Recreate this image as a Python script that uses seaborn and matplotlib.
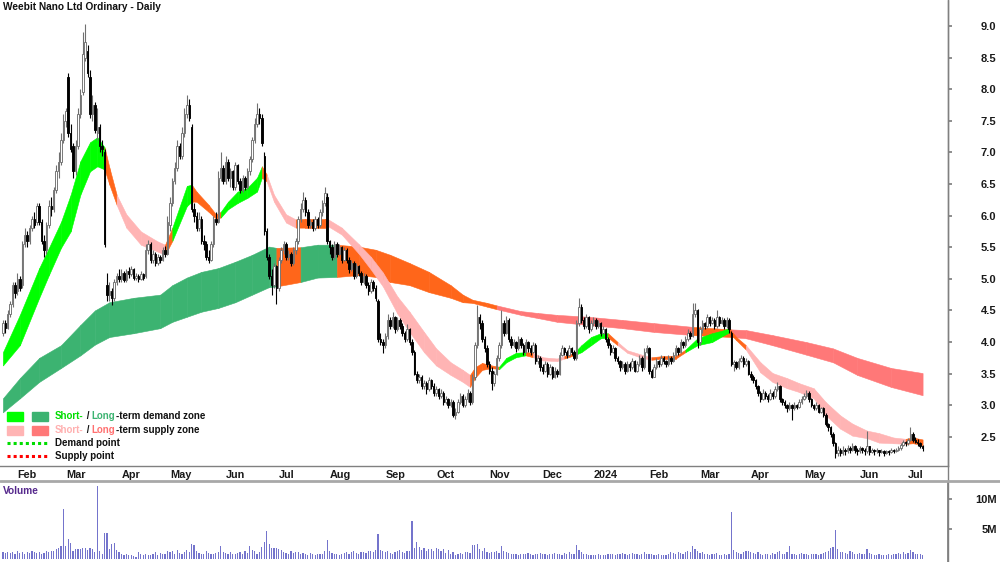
import matplotlib
matplotlib.use('Agg')
import matplotlib.pyplot as plt
from matplotlib.lines import Line2D
from matplotlib.patches import Rectangle
import numpy as np
import pandas as pd
import seaborn as sns

TITLE = 'Weebit Nano Ltd Ordinary - Daily'
FIRST_DAY = '2023-01-24'

# daily candles, one line per month (Jan 2023 .. Jul 2024)
opens = [
    4.15, 4.30, 4.22, 4.45, 4.60, 4.90,
    4.80, 5.00, 4.90, 5.55, 5.70, 5.60, 5.80, 5.95, 5.90, 6.15, 5.90, 5.60, 5.45, 5.85, 6.15, 6.10, 6.40, 6.70, 6.85, 7.20,
    7.50, 8.20, 7.30, 7.10, 6.70, 7.10, 7.60, 7.95, 8.50, 8.60, 8.20, 7.60, 7.75, 7.30, 7.40, 7.10, 7.00, 4.90, 4.75, 4.80, 4.70, 4.95, 5.05,
    5.00, 5.10, 4.98, 5.12, 5.08, 5.15, 5.02, 5.05, 5.00, 5.08, 5.05, 5.45, 5.55, 5.30, 5.40, 5.25, 5.35, 5.30, 5.45, 5.40,
    5.85, 6.20, 6.55, 6.75, 7.10, 6.95, 7.30, 7.60, 7.75, 7.40, 6.10, 6.00, 5.80, 5.95, 5.60, 5.55, 5.35, 5.30, 5.55, 5.95, 5.90, 6.60, 6.75,
    6.55, 6.85, 6.60, 6.70, 6.45, 6.80, 6.55, 6.40, 6.60, 6.45, 6.70, 6.90, 7.20, 7.45, 7.60, 7.55, 6.95, 5.75, 5.35, 5.05, 4.90, 5.20,
    4.85, 5.30, 5.45, 5.55, 5.35, 5.40, 5.25, 5.45, 5.60, 5.95, 6.10, 6.25, 6.05, 5.85, 5.90, 5.80, 5.95, 5.85, 6.05, 6.20, 6.30,
    5.60, 5.50, 5.35, 5.55, 5.40, 5.50, 5.30, 5.45, 5.30, 5.15, 5.25, 5.05, 5.20, 5.10, 4.95, 5.05, 4.90, 4.80, 4.95, 4.85, 4.65, 4.05, 4.00,
    3.95, 4.10, 4.35, 4.25, 4.40, 4.20, 4.35, 4.25, 4.15, 4.05, 4.20, 4.00, 3.85, 3.50, 3.40, 3.45, 3.30, 3.35, 3.25, 3.40, 3.30,
    3.20, 3.25, 3.15, 3.20, 3.05, 3.10, 3.00, 3.05, 2.85, 2.90, 3.05, 3.15, 3.00, 3.10, 3.20, 3.05, 3.45, 3.95, 4.40, 4.30, 4.05, 3.90,
    3.65, 3.55, 3.35, 3.50, 3.75, 3.95, 4.30, 4.15, 4.35, 4.05, 3.95, 4.00, 3.90, 4.05, 3.95, 3.85, 4.00, 3.90, 3.85, 3.95, 3.70, 3.75,
    3.60, 3.55, 3.65, 3.50, 3.60, 3.45, 3.55, 3.50, 3.80, 3.90, 3.85, 3.80, 3.90, 3.85, 3.75, 4.30, 4.55, 4.35, 4.25, 4.40, 4.20,
    4.30, 4.35, 4.25, 4.30, 4.15, 4.20, 4.05, 3.95, 3.85, 3.90, 3.75, 3.70, 3.60, 3.65, 3.55, 3.65, 3.60, 3.70, 3.55, 3.65, 3.75, 3.60, 3.85,
    3.90, 3.55, 3.45, 3.60, 3.70, 3.65, 3.75, 3.70, 3.65, 3.75, 3.70, 3.80, 3.90, 3.85, 4.00, 3.95, 4.05, 4.15, 4.10, 4.45, 4.50,
    4.00, 4.20, 4.30, 4.25, 4.40, 4.30, 4.35, 4.25, 4.40, 4.30, 4.35, 4.25, 4.35, 4.15, 3.65, 3.68, 3.60, 3.70, 3.75, 3.65, 3.70,
    3.50, 3.45, 3.40, 3.30, 3.20, 3.10, 3.20, 3.15, 3.10, 3.20, 3.15, 3.25, 3.30, 3.10, 3.05, 3.00, 2.95, 3.00, 2.95, 3.00, 2.98, 3.05,
    3.10, 3.15, 3.20, 3.10, 3.00, 2.95, 3.00, 2.90, 2.95, 2.85, 2.70, 2.65, 2.55, 2.40, 2.25, 2.30, 2.25, 2.30, 2.28, 2.32, 2.30, 2.35, 2.30,
    2.28, 2.32, 2.30, 2.28, 2.35, 2.26, 2.30, 2.27, 2.29, 2.26, 2.28, 2.25, 2.27, 2.26, 2.29, 2.28, 2.30, 2.33, 2.38, 2.42,
    2.40, 2.45, 2.55, 2.45, 2.42, 2.40, 2.36,
]
highs = [
    4.35, 4.35, 4.50, 4.65, 4.95, 4.95,
    5.10, 5.05, 5.60, 5.80, 5.75, 5.85, 6.00, 6.05, 6.20, 6.20, 5.95, 5.70, 5.90, 6.25, 6.30, 6.45, 6.80, 7.00, 7.30, 7.60,
    7.70, 8.25, 7.45, 7.15, 7.20, 7.70, 8.00, 8.90, 9.03, 8.70, 8.30, 7.90, 7.80, 7.70, 7.45, 7.20, 7.05, 5.10, 4.95, 4.85, 5.00, 5.10, 5.15,
    5.15, 5.12, 5.15, 5.18, 5.20, 5.17, 5.10, 5.08, 5.12, 5.10, 5.55, 5.62, 5.58, 5.45, 5.42, 5.40, 5.38, 5.50, 5.52, 6.00,
    6.30, 6.60, 6.85, 7.20, 7.15, 7.40, 7.70, 7.90, 7.85, 7.45, 6.20, 6.05, 6.05, 6.00, 5.70, 5.60, 5.45, 5.60, 6.00, 6.05, 6.70, 7.00, 6.80,
    6.95, 6.90, 6.75, 6.72, 6.85, 6.82, 6.60, 6.65, 6.62, 6.75, 6.95, 7.25, 7.55, 7.78, 7.70, 7.60, 7.00, 5.80, 5.40, 5.15, 5.25, 5.22,
    5.35, 5.50, 5.60, 5.58, 5.45, 5.42, 5.50, 5.65, 6.00, 6.20, 6.37, 6.30, 6.10, 5.95, 5.95, 6.00, 5.98, 6.10, 6.25, 6.46, 6.35,
    5.62, 5.55, 5.60, 5.58, 5.55, 5.52, 5.50, 5.48, 5.35, 5.30, 5.28, 5.25, 5.22, 5.12, 5.10, 5.08, 4.95, 5.00, 4.98, 4.90, 4.68, 4.15, 4.05,
    4.15, 4.45, 4.40, 4.48, 4.42, 4.40, 4.38, 4.30, 4.18, 4.28, 4.22, 4.05, 3.88, 3.55, 3.50, 3.48, 3.40, 3.38, 3.45, 3.42, 3.35,
    3.30, 3.28, 3.25, 3.22, 3.15, 3.12, 3.10, 3.08, 2.95, 3.10, 3.20, 3.18, 3.15, 3.25, 3.22, 3.50, 4.00, 4.59, 4.45, 4.35, 4.10, 3.95,
    3.70, 3.60, 3.55, 3.80, 4.00, 4.50, 4.35, 4.42, 4.38, 4.10, 4.05, 4.02, 4.10, 4.08, 3.98, 4.05, 4.02, 3.95, 4.00, 3.98, 3.80, 3.78,
    3.65, 3.70, 3.68, 3.65, 3.62, 3.60, 3.58, 3.85, 3.95, 3.92, 3.88, 3.95, 3.92, 3.88, 4.35, 4.70, 4.60, 4.40, 4.45, 4.42, 4.35,
    4.40, 4.38, 4.35, 4.32, 4.25, 4.22, 4.08, 3.98, 3.95, 3.92, 3.78, 3.72, 3.70, 3.68, 3.70, 3.68, 3.75, 3.72, 3.70, 3.80, 3.78, 3.90, 3.95,
    3.92, 3.58, 3.65, 3.75, 3.72, 3.80, 3.78, 3.72, 3.80, 3.78, 3.85, 3.95, 3.92, 4.05, 4.02, 4.10, 4.20, 4.18, 4.62, 4.62, 4.52,
    4.25, 4.35, 4.32, 4.45, 4.42, 4.40, 4.38, 4.50, 4.42, 4.40, 4.38, 4.40, 4.38, 4.18, 3.72, 3.70, 3.75, 3.80, 3.78, 3.75, 3.72,
    3.55, 3.48, 3.42, 3.32, 3.22, 3.25, 3.22, 3.18, 3.25, 3.22, 3.30, 3.37, 3.32, 3.12, 3.08, 3.02, 3.05, 3.02, 3.05, 3.02, 3.10, 3.15,
    3.20, 3.24, 3.22, 3.12, 3.02, 3.05, 3.02, 2.98, 2.97, 2.88, 2.72, 2.68, 2.58, 2.42, 2.35, 2.32, 2.35, 2.32, 2.38, 2.35, 2.40, 2.37, 2.32,
    2.35, 2.34, 2.32, 2.60, 2.36, 2.33, 2.31, 2.32, 2.30, 2.31, 2.29, 2.30, 2.29, 2.32, 2.31, 2.33, 2.36, 2.40, 2.45, 2.44,
    2.48, 2.65, 2.58, 2.50, 2.46, 2.42, 2.38,
]
lows = [
    4.10, 4.15, 4.20, 4.40, 4.55, 4.70,
    4.75, 4.80, 4.85, 5.50, 5.50, 5.55, 5.75, 5.80, 5.85, 5.85, 5.55, 5.35, 5.40, 5.80, 6.00, 6.05, 6.35, 6.60, 6.80, 7.15,
    7.40, 7.25, 7.00, 6.60, 6.65, 7.05, 7.55, 7.90, 8.45, 8.20, 7.55, 7.50, 7.30, 7.20, 7.00, 6.95, 5.50, 4.65, 4.65, 4.58, 4.65, 4.90, 4.95,
    4.95, 4.95, 4.95, 5.02, 5.05, 4.98, 4.98, 4.95, 4.98, 4.98, 5.02, 5.40, 5.25, 5.25, 5.20, 5.22, 5.25, 5.28, 5.35, 5.38,
    5.75, 6.15, 6.50, 6.70, 6.90, 6.90, 7.25, 7.55, 7.50, 6.05, 5.90, 5.75, 5.75, 5.55, 5.45, 5.30, 5.25, 5.28, 5.50, 5.85, 5.88, 6.55, 6.50,
    6.50, 6.55, 6.45, 6.40, 6.40, 6.50, 6.35, 6.38, 6.40, 6.42, 6.65, 6.85, 7.15, 7.40, 7.45, 7.10, 5.70, 5.30, 5.00, 4.75, 4.85, 4.60,
    4.80, 5.25, 5.40, 5.30, 5.30, 5.20, 5.22, 5.40, 5.55, 5.90, 6.05, 6.00, 5.80, 5.80, 5.75, 5.78, 5.80, 5.82, 6.00, 6.15, 5.55,
    5.40, 5.30, 5.32, 5.35, 5.38, 5.25, 5.28, 5.25, 5.10, 5.12, 5.00, 5.02, 5.05, 4.90, 4.92, 4.85, 4.75, 4.78, 4.80, 4.65, 4.00, 3.95, 3.83,
    3.90, 4.05, 4.20, 4.22, 4.15, 4.18, 4.20, 4.10, 4.00, 4.02, 3.95, 3.80, 3.48, 3.35, 3.35, 3.25, 3.25, 3.18, 3.22, 3.25, 3.15,
    3.15, 3.10, 3.12, 3.00, 3.02, 2.95, 2.98, 2.82, 2.78, 2.88, 3.02, 2.98, 2.98, 3.05, 3.00, 3.02, 3.40, 3.90, 4.20, 4.00, 3.85, 3.60,
    3.50, 3.24, 3.30, 3.48, 3.70, 3.90, 4.10, 4.12, 4.00, 3.90, 3.92, 3.85, 3.88, 3.90, 3.80, 3.82, 3.85, 3.80, 3.82, 3.65, 3.65, 3.55,
    3.50, 3.52, 3.45, 3.48, 3.42, 3.43, 3.45, 3.48, 3.78, 3.80, 3.75, 3.78, 3.80, 3.72, 3.72, 4.25, 4.30, 4.20, 4.22, 4.15, 4.18,
    4.25, 4.20, 4.22, 4.10, 4.12, 4.00, 3.90, 3.80, 3.82, 3.70, 3.65, 3.55, 3.58, 3.50, 3.52, 3.55, 3.58, 3.52, 3.52, 3.62, 3.55, 3.58, 3.82,
    3.50, 3.43, 3.44, 3.58, 3.60, 3.62, 3.65, 3.60, 3.62, 3.65, 3.68, 3.78, 3.80, 3.82, 3.90, 3.92, 4.02, 4.05, 4.08, 4.40, 3.90,
    3.95, 4.15, 4.20, 4.22, 4.25, 4.28, 4.20, 4.22, 4.25, 4.28, 4.20, 4.22, 4.15, 3.62, 3.55, 3.58, 3.58, 3.68, 3.60, 3.62, 3.48,
    3.40, 3.35, 3.25, 3.15, 3.05, 3.08, 3.10, 3.05, 3.08, 3.10, 3.12, 3.22, 3.05, 3.00, 2.95, 2.90, 2.92, 2.76, 2.92, 2.94, 2.96, 3.02,
    3.08, 3.12, 3.05, 2.98, 2.92, 2.93, 2.88, 2.88, 2.82, 2.68, 2.60, 2.50, 2.35, 2.17, 2.20, 2.20, 2.22, 2.22, 2.25, 2.25, 2.28, 2.25, 2.22,
    2.25, 2.25, 2.22, 2.25, 2.22, 2.24, 2.22, 2.25, 2.20, 2.24, 2.20, 2.23, 2.22, 2.24, 2.24, 2.26, 2.28, 2.30, 2.35, 2.36,
    2.38, 2.43, 2.42, 2.40, 2.36, 2.33, 2.28,
]
closes = [
    4.30, 4.22, 4.45, 4.60, 4.90, 4.78,
    5.00, 4.85, 5.55, 5.70, 5.60, 5.80, 5.95, 5.85, 6.15, 5.90, 5.60, 5.45, 5.85, 6.15, 6.10, 6.40, 6.70, 6.85, 7.20, 7.50,
    7.65, 7.30, 7.05, 6.70, 7.10, 7.60, 7.90, 8.55, 8.75, 8.25, 7.60, 7.75, 7.35, 7.40, 7.10, 7.05, 5.55, 4.75, 4.80, 4.70, 4.95, 5.05, 5.00,
    5.10, 4.98, 5.12, 5.08, 5.15, 5.02, 5.05, 5.00, 5.08, 5.02, 5.45, 5.55, 5.30, 5.40, 5.25, 5.35, 5.30, 5.45, 5.40, 5.90,
    6.20, 6.55, 6.75, 7.10, 6.95, 7.30, 7.60, 7.75, 7.55, 6.10, 6.00, 5.80, 5.95, 5.60, 5.55, 5.35, 5.30, 5.55, 5.95, 5.90, 6.60, 6.75, 6.55,
    6.85, 6.60, 6.70, 6.45, 6.80, 6.55, 6.40, 6.60, 6.45, 6.70, 6.90, 7.20, 7.45, 7.60, 7.55, 7.15, 5.75, 5.35, 5.05, 4.90, 5.20, 4.85,
    5.30, 5.45, 5.55, 5.35, 5.40, 5.25, 5.45, 5.60, 5.95, 6.10, 6.25, 6.05, 5.85, 5.90, 5.80, 5.95, 5.85, 6.05, 6.20, 6.35, 5.60,
    5.50, 5.35, 5.55, 5.40, 5.50, 5.30, 5.45, 5.30, 5.15, 5.25, 5.05, 5.20, 5.10, 4.95, 5.05, 4.90, 4.80, 4.95, 4.85, 4.70, 4.05, 4.00, 3.95,
    4.10, 4.35, 4.25, 4.40, 4.20, 4.35, 4.25, 4.15, 4.05, 4.20, 4.00, 3.85, 3.50, 3.40, 3.45, 3.30, 3.35, 3.25, 3.40, 3.30, 3.20,
    3.25, 3.15, 3.20, 3.05, 3.10, 3.00, 3.05, 2.85, 2.90, 3.05, 3.15, 3.00, 3.10, 3.20, 3.05, 3.45, 3.95, 4.40, 4.30, 4.05, 3.90, 3.65,
    3.55, 3.35, 3.50, 3.75, 3.95, 4.30, 4.15, 4.35, 4.05, 3.95, 4.00, 3.90, 4.05, 3.95, 3.85, 4.00, 3.90, 3.85, 3.95, 3.70, 3.75, 3.60,
    3.55, 3.65, 3.50, 3.60, 3.45, 3.55, 3.50, 3.80, 3.90, 3.85, 3.80, 3.90, 3.85, 3.75, 4.30, 4.55, 4.35, 4.25, 4.40, 4.20, 4.30,
    4.35, 4.25, 4.30, 4.15, 4.20, 4.05, 3.95, 3.85, 3.90, 3.75, 3.70, 3.60, 3.65, 3.55, 3.65, 3.60, 3.70, 3.55, 3.65, 3.75, 3.60, 3.85, 3.90,
    3.55, 3.45, 3.60, 3.70, 3.65, 3.75, 3.70, 3.65, 3.75, 3.70, 3.80, 3.90, 3.85, 4.00, 3.95, 4.05, 4.15, 4.10, 4.45, 4.50, 4.00,
    4.20, 4.30, 4.25, 4.40, 4.30, 4.35, 4.25, 4.40, 4.30, 4.35, 4.25, 4.35, 4.20, 3.65, 3.68, 3.60, 3.70, 3.75, 3.65, 3.70, 3.50,
    3.45, 3.40, 3.30, 3.20, 3.10, 3.20, 3.15, 3.10, 3.20, 3.15, 3.25, 3.30, 3.10, 3.05, 3.00, 2.95, 3.00, 2.95, 3.00, 2.98, 3.05, 3.10,
    3.15, 3.20, 3.10, 3.00, 2.95, 3.00, 2.90, 2.95, 2.85, 2.70, 2.65, 2.55, 2.40, 2.25, 2.30, 2.25, 2.30, 2.28, 2.32, 2.30, 2.35, 2.30, 2.28,
    2.32, 2.30, 2.28, 2.35, 2.26, 2.30, 2.27, 2.29, 2.26, 2.28, 2.25, 2.27, 2.26, 2.29, 2.28, 2.30, 2.33, 2.38, 2.42, 2.40,
    2.45, 2.55, 2.45, 2.42, 2.40, 2.36, 2.32,
]
# volume in millions of shares
volume_m = [
    1.2, 1.0, 1.1, 1.0, 1.2, 0.9,
    1.3, 1.0, 1.1, 0.9, 1.2, 1.0, 1.3, 1.1, 1.0, 1.2, 0.9, 1.0, 1.4, 1.2, 1.3, 1.3, 1.6, 1.9, 2.2, 8.3,
    2.1, 3.3, 2.7, 1.4, 1.6, 1.7, 1.6, 1.8, 1.8, 1.5, 1.9, 1.7, 1.2, 12.2, 1.4, 0.9, 4.4, 4.4, 1.6, 2.5, 2.6, 1.5, 1.1,
    0.9, 0.7, 0.8, 0.6, 0.7, 0.5, 0.4, 1.1, 0.9, 0.7, 0.8, 0.6, 0.7, 0.9, 1.2, 0.7, 1.0, 0.9, 0.8, 1.4,
    1.1, 1.3, 0.8, 1.5, 1.0, 0.8, 1.1, 1.5, 1.2, 2.5, 2.4, 1.4, 1.0, 0.9, 0.8, 1.3, 1.0, 0.9, 0.8, 1.0, 1.1, 2.2, 1.2,
    1.0, 0.9, 1.1, 0.8, 0.9, 1.0, 1.2, 0.9, 1.3, 1.0, 2.2, 1.5, 1.3, 0.9, 1.1, 2.0, 2.8, 4.7, 2.5, 1.8, 1.9, 1.8,
    1.7, 1.5, 1.1, 1.0, 0.9, 1.3, 1.0, 1.2, 1.1, 0.9, 1.0, 0.8, 0.7, 1.0, 0.8, 0.7, 0.9, 0.8, 0.9, 1.4, 3.1,
    1.4, 1.0, 0.8, 0.9, 0.7, 0.8, 1.0, 1.1, 0.9, 1.2, 1.3, 1.0, 0.8, 1.1, 1.2, 1.0, 1.3, 1.4, 1.2, 1.5, 4.2, 1.5, 1.4,
    1.2, 1.4, 1.0, 0.9, 1.1, 1.3, 1.5, 1.2, 1.0, 1.3, 1.4, 6.4, 1.9, 2.9, 2.0, 1.5, 1.9, 1.4, 1.7, 1.6, 1.3,
    1.8, 1.6, 1.3, 1.7, 1.0, 1.5, 0.9, 1.1, 0.7, 0.8, 1.0, 0.9, 1.2, 1.1, 1.0, 2.3, 2.4, 2.5, 1.6, 1.4, 1.9, 1.2,
    1.0, 1.2, 1.1, 1.4, 1.0, 2.2, 1.3, 1.2, 1.0, 0.9, 0.8, 0.9, 0.7, 0.8, 0.9, 0.8, 1.0, 0.9, 0.7, 0.8, 0.9, 1.0,
    0.9, 0.8, 0.7, 0.9, 0.8, 1.0, 0.9, 0.8, 0.7, 1.0, 0.9, 1.1, 0.8, 0.9, 2.4, 1.5, 1.2, 0.9, 0.8, 0.7, 0.6,
    0.7, 0.6, 0.8, 0.7, 0.6, 0.7, 0.8, 0.9, 0.8, 0.7, 0.9, 0.8, 1.0, 0.9, 0.7, 0.8, 1.0, 0.9, 0.8, 0.7, 0.9, 1.1, 0.8,
    0.9, 0.8, 0.7, 0.6, 0.8, 0.7, 0.6, 0.7, 0.8, 1.1, 1.0, 0.9, 1.2, 1.0, 0.9, 1.1, 1.3, 1.2, 2.2, 1.6, 1.4,
    1.0, 1.1, 0.9, 0.8, 0.7, 0.9, 0.8, 1.0, 0.7, 0.6, 0.8, 0.7, 0.9, 7.8, 1.5, 1.2, 1.0, 0.9, 1.1, 1.3, 1.4,
    1.2, 1.0, 0.9, 1.1, 0.8, 0.7, 0.9, 0.8, 0.7, 1.0, 0.9, 1.2, 1.3, 0.9, 0.8, 1.1, 2.2, 0.9, 0.8, 0.7, 0.9, 1.0,
    0.8, 0.9, 0.7, 0.8, 0.9, 0.8, 0.7, 0.9, 1.0, 1.2, 1.3, 1.8, 2.0, 4.8, 1.6, 1.2, 1.1, 1.0, 0.9, 1.3, 1.1, 0.9, 0.8,
    1.0, 0.8, 0.9, 1.7, 1.0, 0.9, 0.7, 0.6, 0.8, 0.7, 0.6, 0.7, 0.8, 0.7, 0.9, 0.8, 1.0, 0.9, 1.1, 0.8,
    1.0, 1.5, 1.1, 0.9, 0.8, 0.9, 0.7,
]

# short-term zone ribbon, read at key trading days
short_day = [0, 7, 15, 19, 24, 28, 32, 36, 39, 42, 44, 47, 51, 57, 64, 67, 70, 76, 78, 80,
             85, 88, 90, 93, 97, 101, 105, 107, 109, 112, 117, 121, 125, 133, 134, 140, 147, 152, 157, 163,
             168, 174, 179, 185, 190, 193, 195, 198, 202, 205, 208, 212, 216, 219, 223, 229, 232, 236, 239, 243,
             247, 250, 254, 258, 264, 268, 273, 278, 282, 287, 293, 298, 300, 303, 307, 313, 318, 324, 329, 335,
             340, 346, 351, 357, 362, 368, 373, 376, 380]
short_top = [3.84, 4.43, 5.17, 5.49, 5.90, 6.33, 6.86, 7.16, 7.24, 7.08, 6.76, 6.33, 6.02, 5.75, 5.59, 5.54, 5.81, 6.47, 6.49, 6.38,
             6.17, 6.02, 6.06, 6.22, 6.38, 6.44, 6.60, 6.78, 6.65, 6.33, 6.02, 5.94, 5.95, 5.95, 5.95, 5.81, 5.55, 5.35, 5.10, 4.72,
             4.48, 4.16, 3.90, 3.68, 3.56, 3.48, 3.60, 3.67, 3.63, 3.61, 3.75, 3.83, 3.84, 3.83, 3.76, 3.74, 3.78, 3.83, 3.95, 4.08,
             4.14, 4.14, 4.00, 3.87, 3.80, 3.76, 3.78, 3.78, 3.88, 4.06, 4.14, 4.19, 4.22, 4.08, 3.95, 3.68, 3.51, 3.43, 3.35, 3.27,
             3.05, 2.84, 2.71, 2.60, 2.56, 2.49, 2.47, 2.49, 2.46]
short_bot = [3.63, 3.95, 4.70, 5.06, 5.49, 5.75, 6.33, 6.70, 6.78, 6.73, 6.49, 6.17, 5.81, 5.54, 5.43, 5.38, 5.60, 6.15, 6.22, 6.22,
             6.06, 5.95, 5.97, 6.10, 6.20, 6.28, 6.38, 6.60, 6.54, 6.22, 5.89, 5.81, 5.81, 5.81, 5.84, 5.70, 5.40, 5.15, 4.88, 4.45,
             4.16, 3.84, 3.63, 3.48, 3.37, 3.29, 3.43, 3.56, 3.59, 3.57, 3.68, 3.76, 3.79, 3.76, 3.71, 3.70, 3.74, 3.79, 3.84, 3.95,
             4.06, 4.07, 3.95, 3.83, 3.75, 3.72, 3.74, 3.74, 3.84, 3.95, 4.00, 4.11, 4.15, 4.03, 3.88, 3.52, 3.37, 3.27, 3.21, 3.11,
             2.84, 2.63, 2.52, 2.48, 2.41, 2.40, 2.39, 2.40, 2.37]
# G demand, P supply, O transition
short_zone = 'GGGGGGGGGOOPPPPOGGOOOOGGGGGOPPPOOOPPPPPPPPPPPOOOOGGGOPPPOGGGGOPPPOOOGGGGOOPPPPPPPPPPPPOOO'

long_day = [0, 7, 15, 24, 32, 38, 44, 54, 65, 70, 76, 82, 89, 96, 103, 110, 113, 123, 130, 138,
            147, 154, 160, 168, 176, 185, 190, 194, 200, 204, 214, 221, 229, 242, 256, 269, 285, 301, 307, 318,
            332, 343, 353, 367, 380]
long_top = [3.11, 3.43, 3.75, 3.95, 4.27, 4.50, 4.63, 4.70, 4.75, 4.90, 5.02, 5.11, 5.17, 5.27, 5.38, 5.51, 5.49, 5.50, 5.54, 5.54,
            5.51, 5.46, 5.38, 5.25, 5.11, 4.90, 4.75, 4.67, 4.62, 4.58, 4.49, 4.46, 4.43, 4.40, 4.35, 4.30, 4.24, 4.20, 4.19, 4.11,
            4.00, 3.90, 3.75, 3.59, 3.51]
long_bot = [2.89, 3.11, 3.37, 3.59, 3.79, 3.96, 4.08, 4.14, 4.22, 4.32, 4.40, 4.48, 4.54, 4.63, 4.75, 4.87, 4.88, 4.95, 5.02, 5.03,
            5.06, 5.03, 4.95, 4.90, 4.79, 4.70, 4.63, 4.62, 4.56, 4.52, 4.43, 4.38, 4.32, 4.27, 4.22, 4.16, 4.11, 4.08, 4.06, 3.95,
            3.80, 3.68, 3.48, 3.29, 3.16]
# D demand, S supply, O transition
long_zone = 'DDDDDDDDDDDDDDDDODDOOOOOOOOOOSSSSSSSOSSSSSSSS'

price_ticks = [2.5, 3.0, 3.5, 4.0, 4.5, 5.0, 5.5, 6.0, 6.5, 7.0, 7.5, 8.0, 8.5, 9.0]
volume_ticks = [5, 10]
volume_labels = ['5M', '10M']

ZONE_COLORS = {'G': '#00ff00', 'D': '#3cb371', 'P': '#ffb4b4',
               'S': '#ff7878', 'O': '#ff661a'}
GRID_GREY = '#808080'

n = len(closes)
for arr in (opens, highs, lows, volume_m):
    assert len(arr) == n
assert len(short_day) == len(short_top) == len(short_bot) == len(short_zone)
assert len(long_day) == len(long_top) == len(long_bot) == len(long_zone)

sns.set_theme(style='white')
plt.rcParams['font.family'] = ['Liberation Sans', 'DejaVu Sans']

W, H = 1000, 562
fig = plt.figure(figsize=(W / 100, H / 100), dpi=100)
ax = fig.add_axes([0, 1 - 466 / H, 948 / W, 466 / H])
axv = fig.add_axes([0, 0, 948 / W, 80 / H])

dates = pd.bdate_range(FIRST_DAY, periods=n)
day = np.arange(n)


def draw_zone(axis, xs, top, bot, zones, z):
    for i in range(len(xs) - 1):
        col = ZONE_COLORS[zones[i]]
        axis.fill_between(xs[i:i + 2], bot[i:i + 2], top[i:i + 2],
                          color=col, ec=col, lw=0.4, zorder=z)


draw_zone(ax, long_day, long_top, long_bot, long_zone, 1)
draw_zone(ax, short_day, short_top, short_bot, short_zone, 2)

o, h, l, c = (np.array(a) for a in (opens, highs, lows, closes))
up = c >= o
edge = np.where(up, '#707070', '#000000')
ax.vlines(day, l, h, colors=edge, lw=0.8, zorder=3)
ax.bar(day, np.maximum(np.abs(c - o), 0.015), bottom=np.minimum(o, c), width=0.62,
       color=np.where(up, '#ffffff', '#000000'), edgecolor=edge, linewidth=0.65, zorder=4)

xlim = (-1.2, 390.5)
ax.set_xlim(*xlim)
ax.set_ylim(2.04, 9.41)

# month ticks at the first trading day of each month
first_of_month = pd.Series(day, index=dates).groupby([dates.year, dates.month]).first()
tick_pos, tick_lab = [], []
for (yr, mo), pos in first_of_month.items():
    if pos == 0:
        continue
    tick_pos.append(pos)
    tick_lab.append(str(yr) if mo == 1 else pd.Timestamp(yr, mo, 1).strftime('%b'))
ax.set_xticks(tick_pos, tick_lab)
ax.tick_params(axis='x', direction='out', length=2.5, pad=0.5, color=GRID_GREY,
               labelsize=7.8, labelcolor='#1a1a1a')
for lab in ax.get_xticklabels():
    lab.set_ha('left')
    lab.set_fontweight('bold')

ax.yaxis.tick_right()
ax.set_yticks(price_ticks, [f'{t:.1f}' for t in price_ticks])
ax.tick_params(axis='y', direction='out', length=3, pad=32, color=GRID_GREY,
               labelsize=8, labelcolor='#1a1a1a')
for lab in ax.get_yticklabels():
    lab.set_ha('right')
    lab.set_fontweight('bold')

for side in ('top', 'left'):
    ax.spines[side].set_visible(False)
for side in ('bottom', 'right'):
    ax.spines[side].set_color(GRID_GREY)
    ax.spines[side].set_linewidth(1)

# volume panel
vol_df = pd.DataFrame({'day': day, 'volume': volume_m})
sns.barplot(data=vol_df, x='day', y='volume', native_scale=True, color='#7474cc',
            saturation=1, width=0.5, linewidth=0, errorbar=None, ax=axv)
axv.set_xlim(*xlim)
axv.set_ylim(-0.5, 12.83)
axv.set_xlabel('')
axv.set_ylabel('')
axv.set_xticks([])
axv.yaxis.tick_right()
axv.set_yticks(volume_ticks, volume_labels)
axv.tick_params(axis='y', direction='out', length=3, pad=32, color=GRID_GREY,
                labelsize=8, labelcolor='#1a1a1a')
for lab in axv.get_yticklabels():
    lab.set_ha('right')
    lab.set_fontweight('bold')
for side in ('top', 'left', 'bottom'):
    axv.spines[side].set_visible(False)
axv.spines['right'].set_color(GRID_GREY)


def fpos(x, y):
    return x / W, 1 - y / H


fig.add_artist(Line2D([948 / W, 948 / W], [0, 1], color=GRID_GREY, lw=1))
fig.add_artist(Line2D([0, 1], [1 - 481 / H] * 2, color='#a8a8a8', lw=2))

fig.text(*fpos(3, 7.5), TITLE, fontsize=7.3, fontweight='bold', va='center',
         ha='left', color='#111111')
fig.text(*fpos(3, 490.5), 'Volume', fontsize=7.3, fontweight='bold', va='center',
         ha='left', color='#55288c')

# legend
for (x0, y0, col) in [(7, 412, ZONE_COLORS['G']), (32, 412, ZONE_COLORS['D']),
                      (7, 426, ZONE_COLORS['P']), (32, 426, ZONE_COLORS['S'])]:
    fig.add_artist(Rectangle(fpos(x0, y0 + 9), 16 / W, 9 / H, color=col,
                             transform=fig.transFigure))
fig.add_artist(Line2D([7 / W, 48 / W], [1 - 443 / H] * 2, color='#00dd00', lw=2.2,
                      ls=(0, (1, 1))))
fig.add_artist(Line2D([7 / W, 48 / W], [1 - 456 / H] * 2, color='#ff0000', lw=2.2,
                      ls=(0, (1, 1))))


def rich_text(x, y, parts):
    t = fig.text(*fpos(x, y), parts[0][0], color=parts[0][1], fontsize=7,
                 fontweight='bold', va='center', ha='left')
    for s, col in parts[1:]:
        t = ax.annotate(s, xy=(1, 0), xycoords=t, va='bottom', ha='left',
                        color=col, fontsize=7, fontweight='bold',
                        annotation_clip=False)


rich_text(55, 416, [('Short-', '#00dd00'), (' / ', '#111111'), ('Long', '#3cb371'),
                    ('-term demand zone', '#111111')])
rich_text(55, 430, [('Short-', '#ffb0b0'), (' / ', '#111111'), ('Long', '#ff7070'),
                    ('-term supply zone', '#111111')])
rich_text(55, 443, [('Demand point', '#111111')])
rich_text(55, 456, [('Supply point', '#111111')])

fig.savefig('out.png', dpi=100)
